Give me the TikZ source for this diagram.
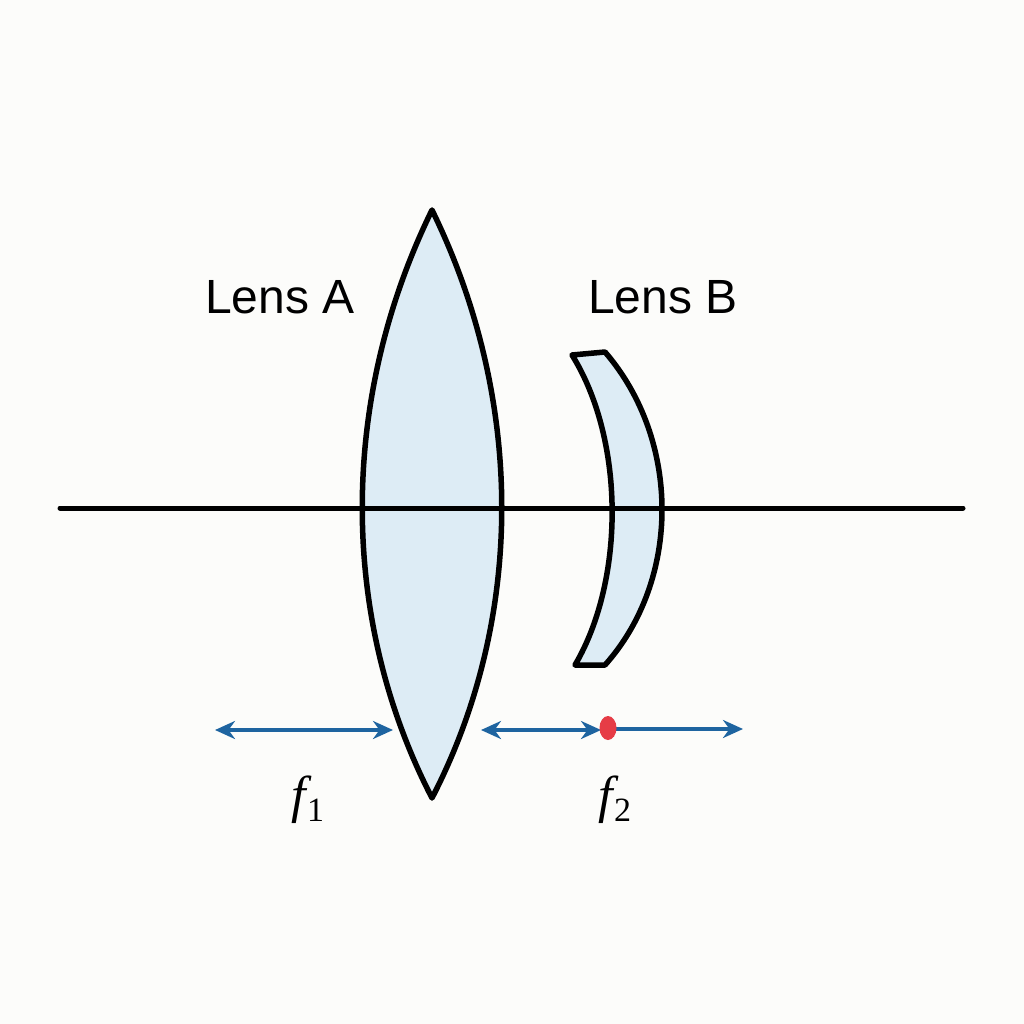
\documentclass[tikz,border=0pt]{standalone}
\usepackage{fontspec}
\setmainfont{Liberation Serif}
\newfontfamily\labfont{Liberation Sans}
\usetikzlibrary{arrows.meta,shapes.geometric}
\definecolor{bg}{RGB}{252,252,250}
\definecolor{lensfill}{RGB}{221,236,245}
\definecolor{arr}{RGB}{30,100,160}
\definecolor{dot}{RGB}{230,60,70}
\newcommand{\foc}[1]{{\itshape f}\kern1pt\raisebox{-9pt}{\fontsize{34}{36}\selectfont #1}}
\begin{document}
\begin{tikzpicture}[x=1pt,y=-1pt,
  lens/.style={draw=black,line width=5.5pt,fill=lensfill,line join=round},
  dim/.style={draw=arr,line width=3.8pt,{Stealth[length=20pt,width=18pt]}-{Stealth[length=20pt,width=18pt]}},
  dimr/.style={draw=arr,line width=3.8pt,-{Stealth[length=20pt,width=18pt]}},
  lab/.style={font=\labfont\fontsize{48}{52}\selectfont},
  flab/.style={font=\fontsize{52}{56}\selectfont}]
\fill[bg] (0,0) rectangle (1024,1024);
\useasboundingbox (0,0) rectangle (1024,1024);
\draw[lens] (432,210) .. controls (339,400) and (339,618) .. (432,798)
  .. controls (525,618) and (525,400) .. (432,210) -- cycle;
\draw[lens] (572,355) -- (605,352) .. controls (681,440) and (681,580) .. (605,665)
  -- (575,665) .. controls (625,580) and (625,440) .. (572,355) -- cycle;
\coordinate (a0) at (60,508); \coordinate (a1) at (963,508);
\draw[line width=5pt,line cap=round] (a0) -- (a1);
\coordinate (p1) at (215,730); \coordinate (p2) at (393,730);
\coordinate (p3) at (481,730); \coordinate (p4) at (601,730);
\coordinate (p5) at (612,729); \coordinate (p6) at (743,729);
\draw[dim] (p1) -- (p2);
\draw[dim] (p3) -- (p4);
\draw[dimr] (p5) -- (p6);
\node[fill=dot,ellipse,minimum width=17pt,minimum height=24pt,inner sep=0pt] (d) at (608,728) {};
\node[lab] (la) at (280,297) {Lens A};
\node[lab] (lb) at (663,297) {Lens B};
\node[flab] (f1) at (308,800) {\foc{1}};
\node[flab] (f2) at (615,800) {\foc{2}};
\end{tikzpicture}
\end{document}
